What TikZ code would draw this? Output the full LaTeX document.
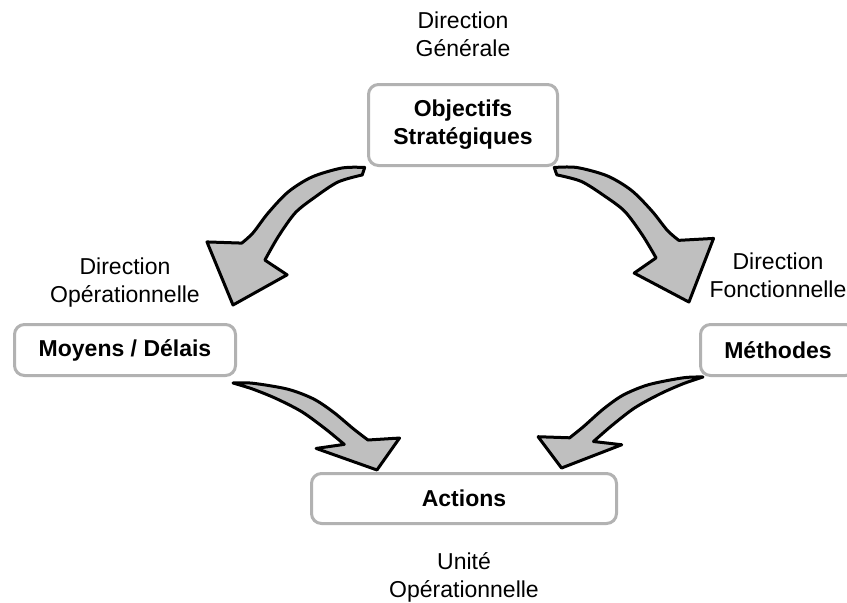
\documentclass[tikz,border=0pt]{standalone}
\usepackage{fontspec}
\setmainfont{Liberation Sans}
\usetikzlibrary{positioning,calc}

\begin{document}
\begin{tikzpicture}[
    x=1pt, y=1pt,
    font=\fontsize{23}{28}\selectfont,
    goal/.style={draw=black!30, line width=3pt, rounded corners=10pt, fill=white,
                 align=center, inner sep=2pt,
                 font=\fontsize{23}{28}\selectfont\bfseries},
    lbl/.style={align=center, inner sep=0pt},
    bulk/.style={fill=gray!50, draw=black, line width=3pt, line join=round},
    toparrow/.pic={
      \filldraw[bulk] (-3,2) -- (4,-1.5)
        -- plot[smooth] coordinates {(4,-1.5) (26,10.9) (53,16.8) (78,19.9) (107,15.4) (133,8.6)}
        -- (128,-17.6) -- (187.4,0) -- (160.5,62.7) -- (137,37)
        -- plot[smooth] coordinates {(137,37) (122,36.1) (97,39.2) (68,39.6) (40.6,33) (13.2,17.8) (-3,2)}
        -- cycle;
    },
    lowarrow/.pic={
      \filldraw[bulk] (0,0)
        -- plot[smooth] coordinates {(0,0) (20,5) (45,9) (74,11) (103,8.5) (127,5)}
        -- (105,-13) -- (168.2,0) -- (171,39) -- (145,21)
        -- plot[smooth] coordinates {(145,21) (127,23) (101,27) (77,28) (50,23) (17,10) (0,0)}
        -- cycle;
    }
  ]
  \useasboundingbox (0,0) rectangle (847,-603);
  % boxes
  \node[goal, minimum width=189pt, minimum height=81pt] (obj) at (463,-125) {Objectifs\\Stratégiques};
  \node[goal, minimum width=221pt, minimum height=51pt] (moy) at (125,-350) {Moyens / Délais};
  \node[goal, minimum width=155pt, minimum height=51pt] (met) at (778,-350) {Méthodes};
  \node[goal, minimum width=305pt, minimum height=50pt] (act) at (464,-498.5) {Actions};
  % who is in charge
  \node[lbl, above=26pt of obj] (gen) {Direction\\Générale};
  \node[lbl, above=16pt of moy] (ope) {Direction\\Opérationnelle};
  \node[lbl, above=25pt of met] (fon) {Direction\\Fonctionnelle};
  \node[lbl, below=27pt of act] (uni) {Unité\\Opérationnelle};
  % ends of the bent arrows
  \coordinate (t1) at ([shift={(-3,-4)}]obj.south west);
  \coordinate (h1) at ([shift={(-4,18)}]moy.north east);
  \coordinate (t2) at ([shift={(-4,-4)}]obj.south east);
  \coordinate (h2) at ([shift={(-6,17)}]met.north west);
  \coordinate (t3) at ([shift={(-4,-6)}]moy.south east);
  \coordinate (h3) at ([shift={(-87,2)}]act.north);
  \coordinate (t4) at ([shift={(4,0)}]met.south west);
  \coordinate (h4) at ([shift={(96,3)}]act.north);
  \foreach \a/\b/\m in {t1/h1/-1, t2/h2/1}
    \path let \p1=($(\b)-(\a)$), \n1={atan2(\y1,\x1)} in
      (\a) pic[rotate=\n1, yscale=\m] {toparrow};
  \foreach \a/\b/\m in {t3/h3/1, t4/h4/-1}
    \path let \p1=($(\b)-(\a)$), \n1={atan2(\y1,\x1)} in
      (\a) pic[rotate=\n1, yscale=\m] {lowarrow};
\end{tikzpicture}
\end{document}
